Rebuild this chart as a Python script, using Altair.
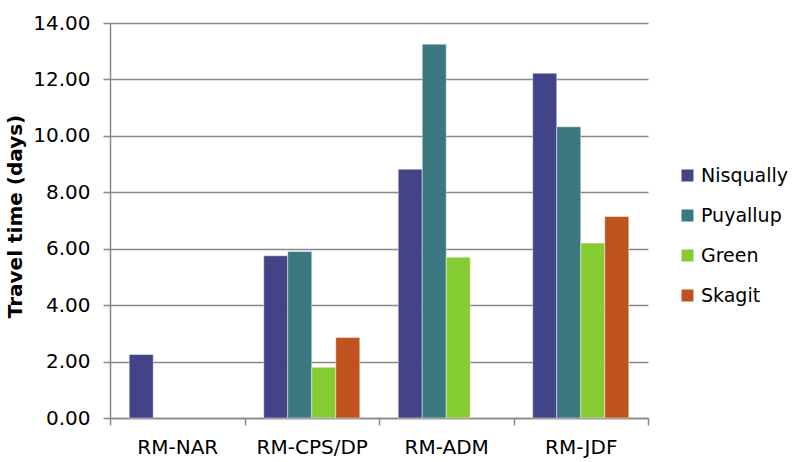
import altair as alt
import pandas as pd

# Travel time (days) from each source river to each region
regions = ["RM-NAR", "RM-CPS/DP", "RM-ADM", "RM-JDF"]
rivers = ["Nisqually", "Puyallup", "Green", "Skagit"]
colors = ["#434387", "#3b7880", "#85cc33", "#c0521f"]

nisqually = [2.25, 5.75, 8.82, 12.22]
puyallup = [None, 5.90, 13.25, 10.32]
green = [None, 1.80, 5.70, 6.20]
skagit = [None, 2.85, None, 7.14]

rows = []
for river, series in zip(rivers, [nisqually, puyallup, green, skagit]):
    for region, v in zip(regions, series):
        if v is not None:
            rows.append({"region": region, "river": river, "days": v})
df = pd.DataFrame(rows)

FONT = "DejaVu Sans"
GRID = "#878787"
FS = 20

chart = (
    alt.Chart(df)
    .mark_bar(stroke="#ffffff", strokeOpacity=0.45, strokeWidth=1)
    .encode(
        x=alt.X(
            "region:N",
            sort=regions,
            scale=alt.Scale(paddingInner=0, paddingOuter=0),
            axis=alt.Axis(
                title=None,
                labelAngle=0,
                tickBand="extent",
                tickSize=7,
                tickColor=GRID,
                tickWidth=1.5,
                domainColor=GRID,
                domainWidth=1.5,
                labelFontSize=FS,
                labelColor="#000000",
                labelPadding=12,
                grid=False,
            ),
        ),
        xOffset=alt.XOffset(
            "river:N",
            sort=rivers,
            scale=alt.Scale(domain=rivers, paddingInner=0, paddingOuter=0.8),
        ),
        y=alt.Y(
            "days:Q",
            scale=alt.Scale(domain=[0, 14], nice=False),
            axis=alt.Axis(
                title="Travel time (days)",
                values=[0, 2, 4, 6, 8, 10, 12, 14],
                format=".2f",
                tickSize=7,
                tickColor=GRID,
                tickWidth=1.5,
                domainColor=GRID,
                domainWidth=1.5,
                gridColor=GRID,
                gridWidth=1.6,
                labelFontSize=FS,
                labelColor="#000000",
                labelPadding=13,
                titleFontSize=FS,
                titleFontWeight="bold",
                titleColor="#000000",
                titleX=-95,
                titleY=193,
                titleAlign="center",
                titleBaseline="middle",
            ),
        ),
        color=alt.Color(
            "river:N",
            sort=rivers,
            scale=alt.Scale(domain=rivers, range=colors),
            legend=alt.Legend(
                title=None,
                orient="none",
                legendX=568,
                legendY=143,
                symbolType="square",
                symbolSize=144,
                symbolStrokeWidth=0,
                labelFontSize=19,
                labelColor="#000000",
                labelOffset=4,
                rowPadding=20,
                padding=0,
            ),
        ),
    )
    .properties(
        width=538,
        height=395,
        autosize=alt.AutoSizeParams(type="none"),
        padding={"left": 110, "top": 23, "right": 148, "bottom": 44},
    )
    .configure(font=FONT, background="#ffffff")
    .configure_view(stroke=None)
)

chart.save("out.html", embed_options={"renderer": "svg", "actions": False})
